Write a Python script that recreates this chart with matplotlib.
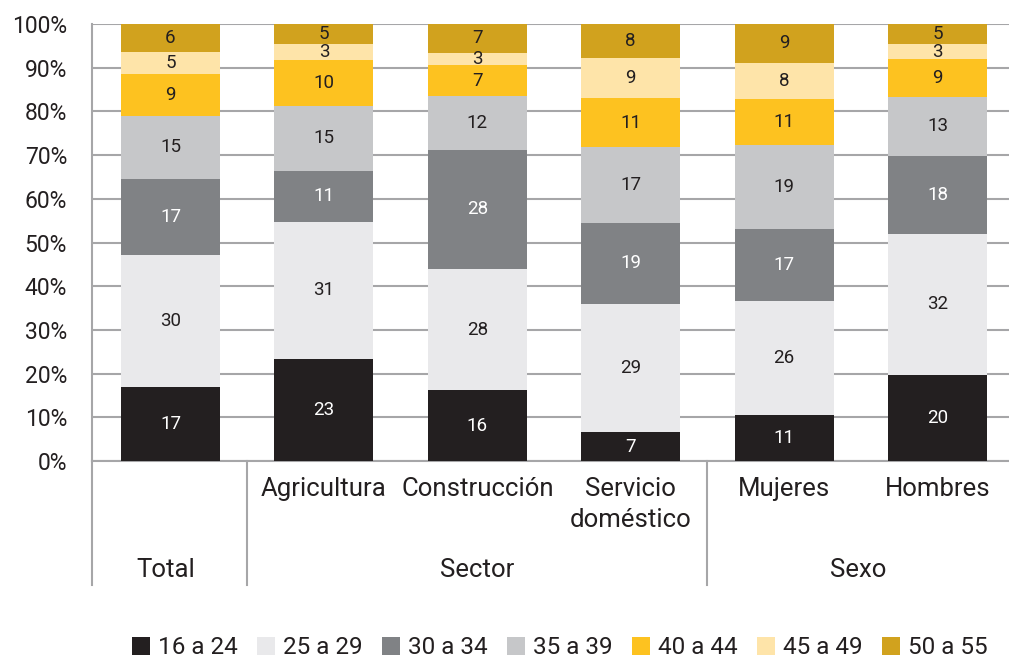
import numpy as np
import matplotlib
matplotlib.use("Agg")
import matplotlib.pyplot as plt
from matplotlib.patches import Patch

plt.rcParams["font.family"] = ["Roboto", "DejaVu Sans"]

# ---------------------------------------------------------------------------
# Data (percent by age group)
# ---------------------------------------------------------------------------
CATEGORIES = ["", "Agricultura", "Construcción", "Servicio\ndoméstico",
              "Mujeres", "Hombres"]
GROUPS = [("Total", 0, 0), ("Sector", 1, 3), ("Sexo", 4, 5)]
AGE_GROUPS = ["16 a 24", "25 a 29", "30 a 34", "35 a 39",
              "40 a 44", "45 a 49", "50 a 55"]

V_16_24 = [16.9, 22.9, 16.4, 6.6, 10.6, 19.6]
V_25_29 = [30.2, 30.8, 28.1, 29.4, 26.4, 32.1]
V_30_34 = [17.2, 11.4, 27.6, 18.6, 16.6, 17.7]
V_35_39 = [14.6, 14.6, 12.4, 17.4, 19.4, 13.4]
V_40_44 = [9.4, 10.4, 7.1, 11.2, 10.6, 8.6]
V_45_49 = [5.2, 3.4, 3.0, 9.1, 8.4, 3.4]
V_50_55 = [6.3, 4.6, 6.6, 7.9, 8.9, 4.6]

COLORS = ["#231f20", "#e9e9eb", "#808285", "#c6c7c9",
          "#fdc220", "#fee4a9", "#d1a21e"]
TEXT_COLORS = ["white", "#231f20", "white", "#231f20",
               "#231f20", "#231f20", "#231f20"]

values = np.array([V_16_24, V_25_29, V_30_34, V_35_39, V_40_44, V_45_49, V_50_55])
shares = values / values.sum(axis=0) * 100  # 100% stacked

# ---------------------------------------------------------------------------
# Figure
# ---------------------------------------------------------------------------
W, H = 1009, 659
fig = plt.figure(figsize=(W / 100, H / 100), dpi=100)
ax = fig.add_axes([92 / W, 1 - 461 / H, (W - 92) / W, (461 - 24) / H])

x = np.arange(len(CATEGORIES))
bottom = np.zeros(len(CATEGORIES))
for k in range(len(AGE_GROUPS)):
    ax.bar(x, shares[k], bottom=bottom, width=0.645, color=COLORS[k],
           edgecolor="none", zorder=3)
    for i in range(len(CATEGORIES)):
        ax.text(x[i], bottom[i] + shares[k][i] / 2, f"{values[k][i]:.0f}",
                ha="center", va="center", fontsize=13.5,
                color=TEXT_COLORS[k], zorder=4)
    bottom += shares[k]

ax.set_xlim(-0.512, 5.466)
ax.set_ylim(0, 100)
ax.set_yticks(range(0, 101, 10))
ax.set_yticklabels([f"{t}%" for t in range(0, 101, 10)], fontsize=16.5,
                   color="#231f20")
ax.tick_params(axis="y", length=0, pad=18)
ax.set_xticks([])
ax.yaxis.grid(True, color="#a6a6a8", lw=1.5, zorder=0)
ax.set_axisbelow(True)

for s in ["top", "right"]:
    ax.spines[s].set_visible(False)
for s in ["left", "bottom"]:
    ax.spines[s].set_color("#a6a6a8")
    ax.spines[s].set_linewidth(1.5)

# Multi-level category axis
tr = ax.get_xaxis_transform()
for i, lab in enumerate(CATEGORIES):
    ax.text(x[i], -0.036, lab, transform=tr, ha="center", va="top",
            fontsize=18.5, color="#231f20", linespacing=1.4)
for name, a, b in GROUPS:
    right = b + 0.5 if b < len(CATEGORIES) - 1 else 5.466
    left = a - 0.5 if a > 0 else -0.512
    ax.text((left + right) / 2 if a > 0 else x[a] - 0.03, -0.250, name,
            transform=tr, ha="center", va="center", fontsize=18.5,
            color="#231f20")
for xb in [-0.512, 0.5, 3.5]:
    ax.plot([xb, xb], [0, -0.284], transform=tr, color="#a6a6a8",
            lw=1.5, clip_on=False)

# Legend
handles = [Patch(facecolor=c, edgecolor="none") for c in COLORS]
fig.legend(handles, AGE_GROUPS, loc="center", ncol=7,
           bbox_to_anchor=(560 / W, 1 - 648 / H), frameon=False,
           fontsize=17.5, handlelength=0.74, handleheight=0.74,
           handletextpad=0.33, columnspacing=0.8, labelcolor="#231f20")

fig.savefig("out.png", dpi=100)
